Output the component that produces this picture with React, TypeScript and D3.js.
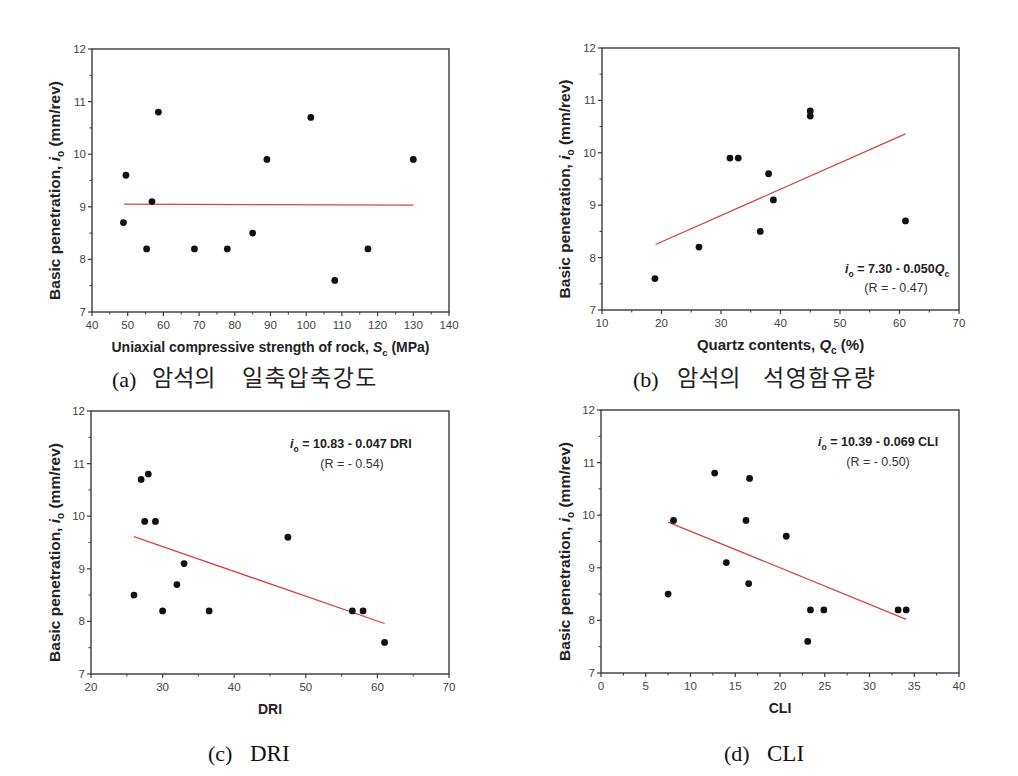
import React from "react";
import * as d3 from "d3";

// ---------- Data ----------
const ucsX = [48.8, 49.5, 55.3, 56.8, 58.6, 68.7, 77.9, 85.0, 89.0, 101.3, 108.0, 117.3, 130.0];
const ucsY = [8.7, 9.6, 8.2, 9.1, 10.8, 8.2, 8.2, 8.5, 9.9, 10.7, 7.6, 8.2, 9.9];
const ucsFitX = [49, 130];
const ucsFitY = [9.05, 9.03];

const qcX = [18.9, 26.3, 31.5, 32.9, 36.6, 38.0, 38.8, 45.0, 45.0, 61.0];
const qcY = [7.6, 8.2, 9.9, 9.9, 8.5, 9.6, 9.1, 10.8, 10.7, 8.7];
const qcFitX = [19, 61];
const qcFitY = [8.25, 10.36];

const driX = [26.0, 27.0, 28.0, 27.5, 29.0, 30.0, 32.0, 33.0, 36.5, 47.5, 56.5, 58.0, 61.0];
const driY = [8.5, 10.7, 10.8, 9.9, 9.9, 8.2, 8.7, 9.1, 8.2, 9.6, 8.2, 8.2, 7.6];
const driFitX = [26, 61];
const driFitY = [9.61, 7.96];

const cliX = [7.5, 8.1, 12.7, 14.0, 16.2, 16.6, 16.5, 20.7, 23.1, 23.4, 24.9, 33.2, 34.1];
const cliY = [8.5, 9.9, 10.8, 9.1, 9.9, 10.7, 8.7, 9.6, 7.6, 8.2, 8.2, 8.2, 8.2];
const cliFitX = [7.5, 34.1];
const cliFitY = [9.87, 8.02];

const yTicks = [7, 8, 9, 10, 11, 12];
const ucsTicks = [40, 50, 60, 70, 80, 90, 100, 110, 120, 130, 140];
const qcTicks = [10, 20, 30, 40, 50, 60, 70];
const driTicks = [20, 30, 40, 50, 60, 70];
const cliTicks = [0, 5, 10, 15, 20, 25, 30, 35, 40];

const SANS = "'Liberation Sans', Arial, sans-serif";
const SERIF = "'Liberation Serif', serif";
const KR = "'Noto Sans CJK KR', sans-serif";
const AXIS = "#3a3a3a";
const RED = "#d4453f";

type PanelProps = {
  left: number; right: number; top: number; bottom: number;
  xTicks: number[];
  xs: number[]; ys: number[];
  fitX: number[]; fitY: number[];
  xTitle: React.ReactNode;
  xTitleSize: number;
  yLabelX: number;
  annotation?: { x: number; y: number; main: string; sub: string; tail: string; r: string; rx: number; ry: number };
};

function Panel(p: PanelProps) {
  const x = d3.scaleLinear().domain([p.xTicks[0], p.xTicks[p.xTicks.length - 1]]).range([p.left, p.right]);
  const y = d3.scaleLinear().domain([7, 12]).range([p.bottom, p.top]);
  const step = p.xTicks[1] - p.xTicks[0];
  const xMinor = p.xTicks.slice(0, -1).map((t) => t + step / 2);
  const yMinor = yTicks.slice(0, -1).map((t) => t + 0.5);
  const line = d3.line<number>().x((_, i) => x(p.fitX[i])).y((d) => y(d));
  const cy = (p.top + p.bottom) / 2 + 10;
  return (
    <g>
      <rect x={p.left} y={p.top} width={p.right - p.left} height={p.bottom - p.top} fill="none" stroke={AXIS} strokeWidth={1.4} />
      {yTicks.map((t) => (
        <g key={"y" + t}>
          <line x1={p.left - 4} x2={p.left} y1={y(t)} y2={y(t)} stroke={AXIS} strokeWidth={1.2} />
          <text x={p.left - 6} y={y(t) + 4} textAnchor="end" fontSize={11.5} fontFamily={SANS} fill="#444">{t}</text>
        </g>
      ))}
      {yMinor.map((t) => (
        <line key={"ym" + t} x1={p.left - 2.5} x2={p.left} y1={y(t)} y2={y(t)} stroke={AXIS} strokeWidth={1} />
      ))}
      {p.xTicks.map((t) => (
        <g key={"x" + t}>
          <line x1={x(t)} x2={x(t)} y1={p.bottom} y2={p.bottom + 4} stroke={AXIS} strokeWidth={1.2} />
          <text x={x(t)} y={p.bottom + 17} textAnchor="middle" fontSize={11.5} fontFamily={SANS} fill="#444">{t}</text>
        </g>
      ))}
      {xMinor.map((t) => (
        <line key={"xm" + t} x1={x(t)} x2={x(t)} y1={p.bottom} y2={p.bottom + 2.5} stroke={AXIS} strokeWidth={1} />
      ))}
      <path d={line(p.fitY) || ""} fill="none" stroke={RED} strokeWidth={1.3} />
      {p.xs.map((xv, i) => (
        <circle key={"c" + i} cx={x(xv)} cy={y(p.ys[i])} r={3.4} fill="#111" />
      ))}
      <text x={(p.left + p.right) / 2} y={p.bottom + 40} textAnchor="middle" fontSize={p.xTitleSize} fontWeight="bold" fontFamily={SANS} fill="#222">
        {p.xTitle}
      </text>
      <text transform={`translate(${p.yLabelX},${cy}) rotate(-90)`} textAnchor="middle" fontSize={15.5} fontWeight="bold" fontFamily={SANS} fill="#222">
        Basic penetration, <tspan fontStyle="italic">i</tspan><tspan dy={4} fontSize={10}>o</tspan><tspan dy={-4}> (mm/rev)</tspan>
      </text>
      {p.annotation && (
        <g>
          <text x={p.annotation.x} y={p.annotation.y} textAnchor="start" fontSize={12.5} fontWeight="bold" fontFamily={SANS} fill="#222">
            <tspan fontStyle="italic">i</tspan><tspan dy={4} fontSize={8.5}>o</tspan><tspan dy={-4}>{p.annotation.main}</tspan>
            {p.annotation.sub && (<><tspan fontStyle="italic">{p.annotation.sub}</tspan><tspan dy={4} fontSize={8.5}>{p.annotation.tail}</tspan></>)}
          </text>
          <text x={p.annotation.rx} y={p.annotation.ry} textAnchor="middle" fontSize={12.5} fontFamily={SANS} fill="#333">{p.annotation.r}</text>
        </g>
      )}
    </g>
  );
}

export default function App() {
  return (
    <svg width={1018} height={776} style={{ position: "absolute", left: 0, top: 0, background: "#fff" }}>
      <rect width={1018} height={776} fill="#fff" />
      <Panel left={92} right={449} top={49} bottom={312} xTicks={ucsTicks} xs={ucsX} ys={ucsY} fitX={ucsFitX} fitY={ucsFitY}
        xTitleSize={14} yLabelX={60}
        xTitle={<>Uniaxial compressive strength of rock, <tspan fontStyle="italic">S</tspan><tspan dy={4} fontSize={9.5}>c</tspan><tspan dy={-4}> (MPa)</tspan></>} />
      <Panel left={602} right={959} top={48} bottom={310} xTicks={qcTicks} xs={qcX} ys={qcY} fitX={qcFitX} fitY={qcFitY}
        xTitleSize={15} yLabelX={570}
        xTitle={<>Quartz contents, <tspan fontStyle="italic">Q</tspan><tspan dy={4} fontSize={10}>c</tspan><tspan dy={-4}> (%)</tspan></>}
        annotation={{ x: 845, y: 273, main: " = 7.30 - 0.050", sub: "Q", tail: "c", r: "(R = - 0.47)", rx: 896, ry: 292 }} />
      <Panel left={91} right={449} top={411} bottom={674} xTicks={driTicks} xs={driX} ys={driY} fitX={driFitX} fitY={driFitY}
        xTitleSize={14} yLabelX={60}
        xTitle={<>DRI</>}
        annotation={{ x: 290, y: 448, main: " = 10.83 - 0.047 DRI", sub: "", tail: "", r: "(R = - 0.54)", rx: 352, ry: 468 }} />
      <Panel left={601} right={959} top={410} bottom={673} xTicks={cliTicks} xs={cliX} ys={cliY} fitX={cliFitX} fitY={cliFitY}
        xTitleSize={14} yLabelX={570}
        xTitle={<>CLI</>}
        annotation={{ x: 818, y: 446, main: " = 10.39 - 0.069 CLI", sub: "", tail: "", r: "(R = - 0.50)", rx: 878, ry: 466 }} />

      <text x={112} y={387} fontSize={22} fontFamily={SERIF} fill="#111">(a)</text>
      <text x={152} y={386} fontSize={23} fontFamily={KR} letterSpacing={0} fill="#222">암석의</text>
      <text x={242} y={386} fontSize={23} fontFamily={KR} letterSpacing={1.5} fill="#222">일축압축강도</text>

      <text x={633} y={387} fontSize={22} fontFamily={SERIF} fill="#111">(b)</text>
      <text x={677} y={386} fontSize={23} fontFamily={KR} letterSpacing={0} fill="#222">암석의</text>
      <text x={763} y={386} fontSize={23} fontFamily={KR} letterSpacing={1.5} fill="#222">석영함유량</text>

      <text x={208} y={761} fontSize={22} fontFamily={SERIF} fill="#111">(c)</text>
      <text x={250} y={761} fontSize={23} fontFamily={SERIF} fill="#111">DRI</text>
      <text x={724} y={761} fontSize={22} fontFamily={SERIF} fill="#111">(d)</text>
      <text x={767} y={761} fontSize={23} fontFamily={SERIF} fill="#111">CLI</text>
    </svg>
  );
}
